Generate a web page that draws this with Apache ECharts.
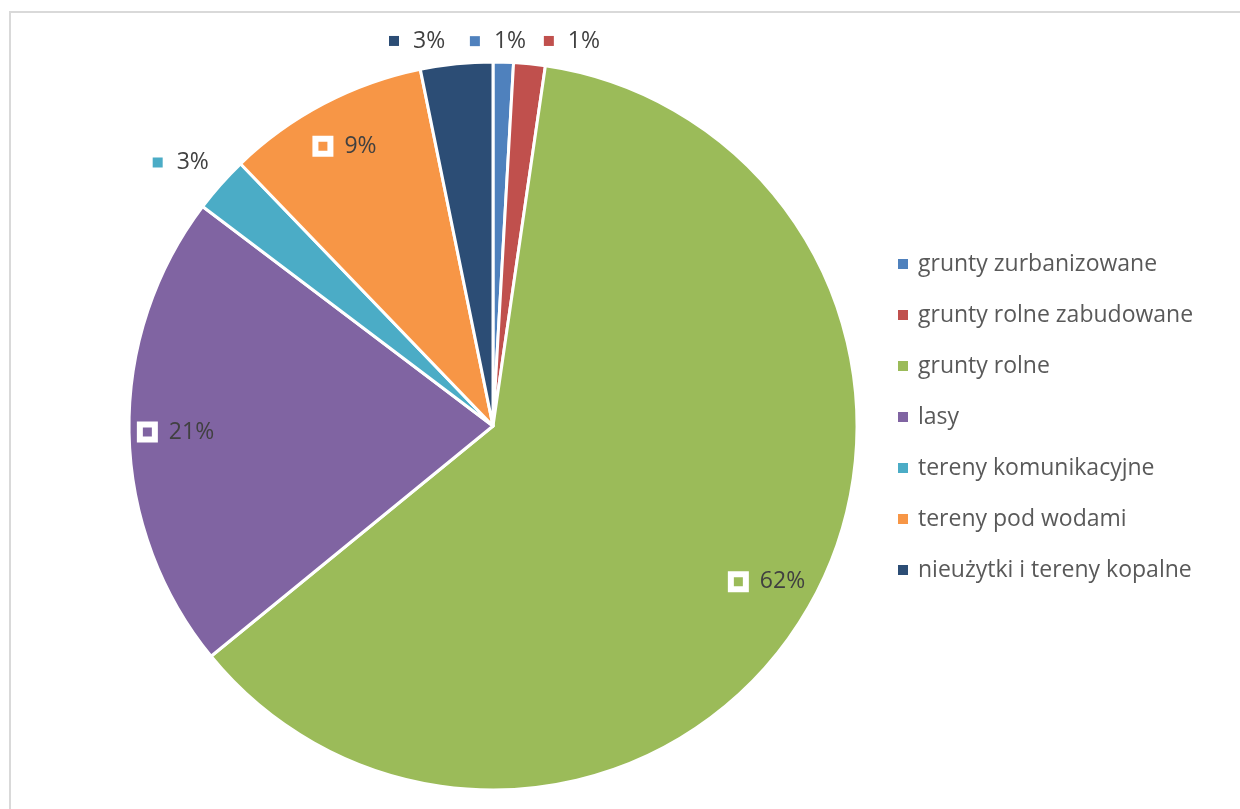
<!DOCTYPE html>
<html>
<head>
<meta charset="utf-8">
<script src="https://cdn.jsdelivr.net/npm/echarts@6/dist/echarts.min.js"></script>
<style>
html,body{margin:0;padding:0;background:#fff;}
#chart{width:1240px;height:809px;}
</style>
</head>
<body>
<div id="chart"></div>
<script>
const categories = ['grunty zurbanizowane','grunty rolne zabudowane','grunty rolne','lasy','tereny komunikacyjne','tereny pod wodami','nieużytki i tereny kopalne'];
const values = [0.9, 1.4, 61.8, 21.2, 2.5, 9.0, 3.2];
const colors = ['#4F81BD','#C0504D','#9BBB59','#8064A2','#4BACC6','#F79646','#2C4D75'];

// label nudges for the small outside labels (style only)
const outsideOffsets = {0:[-6,3], 1:[40,1], 4:[-22,-6], 6:[-37,1]};

const FONT = '"Open Sans", sans-serif';
const total = values.reduce((a,b)=>a+b,0);
const pct = v => Math.round(v/total*100) + '%';

const CX = 493, CY = 426, R = 364;

const rich = {
  hollow:{width:15,height:15,borderColor:'#fff',borderWidth:3,backgroundColor:'transparent'},
  t:{fontSize:23,color:'#404040',fontFamily:FONT,padding:[0,0,0,14]}
};
colors.forEach((c,i)=>{ rich['s'+i] = {width:10,height:10,backgroundColor:c}; });

const mainData = categories.map((n,i)=>({name:n,value:values[i],itemStyle:{color:colors[i]}}));
const innerData = categories.map((n,i)=>({
  name:n, value:values[i],
  itemStyle:{color:'transparent'},
  label:{show: values[i]/total >= 0.05}
}));
const outerData = categories.map((n,i)=>({
  name:n, value:values[i],
  itemStyle:{color:'transparent'},
  label:{show: values[i]/total < 0.05, offset: outsideOffsets[i] || [0,0]}
}));

const chart = echarts.init(document.getElementById('chart'), null, {renderer:'canvas'});
chart.setOption({
  animation:false,
  backgroundColor:'#fff',
  graphic:[{type:'rect',shape:{x:10,y:12,width:1260,height:840},style:{fill:'none',stroke:'#d9d9d9',lineWidth:2},silent:true}],
  legend:{
    orient:'vertical', left:891, top:244,
    data:categories,
    icon:'rect', itemWidth:12, itemHeight:12, itemGap:21,
    textStyle:{fontSize:23,fontFamily:FONT,color:'#595959',lineHeight:30,padding:[0,0,0,4]}
  },
  series:[
    {
      type:'pie', center:[CX,CY], radius:[0,R], startAngle:90, clockwise:true,
      data:mainData, label:{show:false}, labelLine:{show:false},
      itemStyle:{borderColor:'#fff',borderWidth:3}, silent:true
    },
    {
      type:'pie', center:[CX,CY], radius:[R*0.72,R], startAngle:90, clockwise:true,
      data:innerData, silent:true, avoidLabelOverlap:false,
      label:{position:'inside', formatter:p=>'{hollow|}{t|'+pct(p.value)+'}', rich:rich},
      labelLine:{show:false}, legendHoverLink:false
    },
    {
      type:'pie', center:[CX,CY], radius:[R,R+42], startAngle:90, clockwise:true,
      data:outerData, silent:true, avoidLabelOverlap:false,
      label:{position:'inside', formatter:p=>'{s'+p.dataIndex+'|}{t|'+pct(p.value)+'}', rich:rich},
      labelLine:{show:false}, legendHoverLink:false
    }
  ]
});
</script>
</body>
</html>
